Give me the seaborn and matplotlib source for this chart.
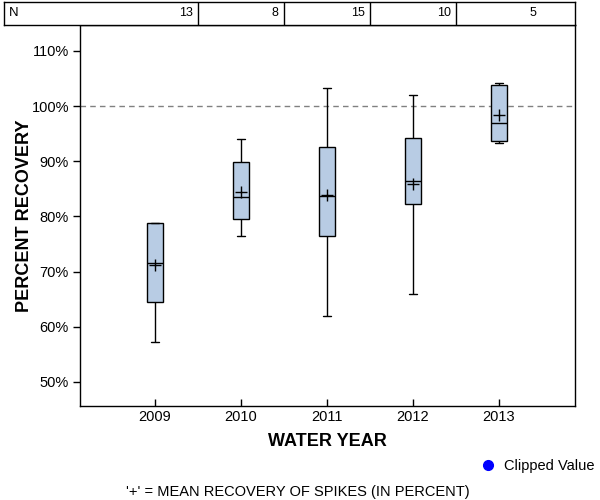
import numpy as np
import pandas as pd
import matplotlib
matplotlib.use("Agg")
import matplotlib.pyplot as plt
import seaborn as sns

# ---------- DATA ----------
years = ["2009", "2010", "2011", "2012", "2013"]
n_samples = [13, 8, 15, 10, 5]
whisker_low = [57.3, 76.4, 62.0, 66.0, 93.3]
q1 = [64.5, 79.5, 76.4, 82.2, 93.6]
median = [71.6, 83.5, 83.7, 86.5, 96.9]
q3 = [78.8, 89.8, 92.6, 94.3, 103.9]
whisker_high = [78.8, 94.0, 103.3, 102.1, 104.1]
mean_recovery = [71.2, 84.4, 83.9, 85.8, 98.3]
y_ticks = [50, 60, 70, 80, 90, 100, 110]

# five-number summary per year -> long table for seaborn
rows = []
for i, yr in enumerate(years):
    for v in [whisker_low[i], q1[i], median[i], q3[i], whisker_high[i]]:
        rows.append({"year": yr, "recovery": v})
df = pd.DataFrame(rows)
means = pd.DataFrame({"year": years, "mean": mean_recovery})

# ---------- STYLE ----------
sns.set_style("white")
plt.rcParams["font.family"] = ["Liberation Sans", "DejaVu Sans"]
plt.rcParams["text.color"] = "black"
plt.rcParams["axes.labelcolor"] = "black"
plt.rcParams["xtick.color"] = "black"
plt.rcParams["ytick.color"] = "black"

fig = plt.figure(figsize=(6, 5), dpi=100)
ax = fig.add_axes([80 / 600, 1 - 406 / 500, 495 / 600, 381 / 500])

# ---------- BOXES ----------
sns.boxplot(
    data=df, x="year", y="recovery", order=years,
    whis=(0, 100), width=0.175, color="#B8CCE4", saturation=1,
    linecolor="black", linewidth=1.0, showfliers=False,
    capprops={"linewidth": 1.0}, ax=ax,
)
# narrower whisker caps
for line in ax.lines:
    xd = line.get_xdata()
    if len(xd) == 2 and xd[0] != xd[1] and abs(xd[1] - xd[0]) < 0.15:
        c = (xd[0] + xd[1]) / 2
        line.set_xdata([c - 0.05, c + 0.05])

sns.scatterplot(
    data=means, x="year", y="mean", marker="+", s=70,
    color="black", linewidth=1.0, ax=ax, zorder=5,
)

ax.axhline(100, color="gray", linestyle=(0, (4, 3)), linewidth=1.0, zorder=0)

ax.set_xlim(-0.872, 4.884)
ax.set_ylim(45.65, 114.7)
ax.set_yticks(y_ticks)
ax.set_yticklabels([f"{t}%" for t in y_ticks])
ax.tick_params(axis="y", direction="out", length=5, width=1, labelsize=10.5,
               left=True, pad=3)
ax.tick_params(axis="x", direction="in", length=5, width=1, labelsize=10.5,
               bottom=True, pad=3)
for s in ax.spines.values():
    s.set_color("black")
    s.set_linewidth(1.0)

ax.set_xlabel("WATER YEAR", fontsize=13, fontweight="bold")
ax.set_ylabel("PERCENT RECOVERY", fontsize=13, fontweight="bold")
ax.xaxis.set_label_coords(0.5, -(433 - 406) / 381)
ax.yaxis.set_label_coords(-(80 - 33) / 495, 0.5)

# ---------- N TABLE ----------
tab = fig.add_axes([4 / 600, 1 - 25 / 500, 571 / 600, 23 / 500])
tab.set_xlim(-1.756, 4.884)
tab.set_ylim(0, 1)
tab.set_xticks([])
tab.set_yticks([])
for s in tab.spines.values():
    s.set_color("black")
    s.set_linewidth(1.0)
for i in range(len(years) - 1):
    tab.axvline(i + 0.5, color="black", linewidth=1.0)
tab.text(-1.7, 0.5, "N", ha="left", va="center", fontsize=9.5)
for i, n in enumerate(n_samples):
    tab.text(i + 0.44, 0.5, str(n), ha="right", va="center", fontsize=9)

# ---------- LEGEND / NOTE ----------
fig.add_artist(plt.Line2D([488 / 600], [1 - 465 / 500], marker="o",
                          markersize=7, color="blue", linestyle="none",
                          transform=fig.transFigure))
fig.text(504 / 600, 1 - 466 / 500, "Clipped Value", fontsize=10.5,
         ha="left", va="center")
fig.text(298 / 600, 1 - 492 / 500, "'+' = MEAN RECOVERY OF SPIKES (IN PERCENT)",
         fontsize=10.5, ha="center", va="center")

fig.savefig("out.png", dpi=100)
